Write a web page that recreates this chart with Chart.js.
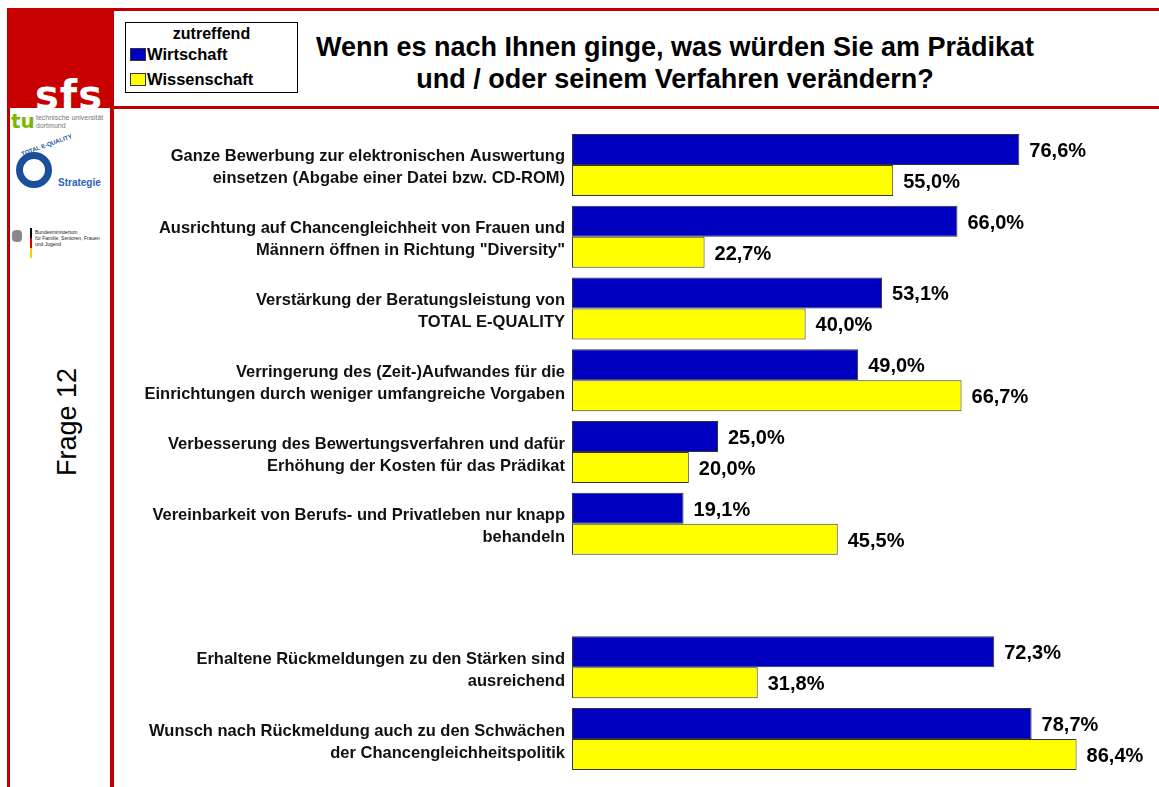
<!DOCTYPE html>
<html>
<head>
<meta charset="utf-8">
<script src="https://cdn.jsdelivr.net/npm/chart.js@4.4.1/dist/chart.umd.min.js"></script>
<style>
  html, body { margin: 0; padding: 0; background: #fff; }
  body { width: 1159px; height: 787px; position: relative; overflow: hidden; font-family: "Liberation Sans", Arial, sans-serif; }
  .red { position: absolute; background: #bf0000; }
  #sfs { position: absolute; left: 8px; top: 9px; width: 105px; height: 99px; background: #c80000; overflow: hidden; }
  #sfs span { position: absolute; left: 27px; bottom: -10px; color: #fff; font: bold 40px "DejaVu Sans", sans-serif; letter-spacing: 1px; }
  #logos { position: absolute; left: 10px; top: 110px; width: 100px; height: 160px; background: #fff; }
  #legend { position: absolute; left: 125px; top: 22px; width: 171px; height: 69px; border: 1.5px solid #000; font-weight: bold; }
  #legend .ttl { text-align: center; font-size: 16px; margin-top: 2px; }
  #legend .it { position: absolute; left: 4px; font-size: 16.5px; }
  #legend .sw { display: inline-block; width: 14px; height: 11px; border: 1px solid #333; vertical-align: -1px; margin-right: 1px; }
  #title { position: absolute; left: 280px; width: 790px; top: 31px; text-align: center; font: bold 27px "Liberation Sans", sans-serif; line-height: 32px; }
  #frage { position: absolute; left: 67px; top: 422px; transform: translate(-50%, -50%) rotate(-90deg); font-size: 27px; white-space: nowrap; }
  #wrap { position: absolute; left: 113px; top: 109px; width: 1046px; height: 678px; }
</style>
</head>
<body>
<div class="red" style="left:8px; top:8px; width:1151px; height:3px;"></div>
<div class="red" style="left:7px; top:8px; width:3px; height:779px;"></div>
<div class="red" style="left:110px; top:8px; width:4px; height:779px;"></div>
<div class="red" style="left:113px; top:106px; width:1046px; height:3px;"></div>
<div id="sfs"><span>sfs</span></div>
<div id="logos">
  <div style="position:absolute; left:1px; top:2px; color:#7ab800; font:bold 20px 'DejaVu Sans', sans-serif; line-height:18px;">tu</div>
  <div style="position:absolute; left:26px; top:4px; color:#777; font-size:7px; line-height:8px;">technische universität<br>dortmund</div>
  <div style="position:absolute; left:6px; top:42px; width:36px; height:36px; border-radius:50%; border:7px solid #1a4f9c; box-sizing:border-box;"></div>
  <div style="position:absolute; left:10px; top:32px; color:#1a4f9c; font:bold 6px sans-serif; transform:rotate(-20deg);">TOTAL E-QUALITY</div>
  <div style="position:absolute; left:48px; top:67px; color:#2a62b8; font:bold 10px sans-serif;">Strategie</div>
  <div style="position:absolute; left:2px; top:120px; width:10px; height:12px; background:#888; border-radius:4px;"></div>
  <div style="position:absolute; left:20px; top:118px; width:2px; height:10px; background:#000;"></div>
  <div style="position:absolute; left:20px; top:128px; width:2px; height:10px; background:#d00;"></div>
  <div style="position:absolute; left:20px; top:138px; width:2px; height:10px; background:#fc0;"></div>
  <div style="position:absolute; left:25px; top:119px; color:#222; font-size:5px; line-height:6px;">Bundesministerium<br>für Familie, Senioren, Frauen<br>und Jugend</div>
</div>
<div id="legend">
  <div class="ttl">zutreffend</div>
</div>
<div id="title">Wenn es nach Ihnen ginge, was würden Sie am Prädikat<br>und / oder seinem Verfahren verändern?</div>
<div id="frage">Frage 12</div>
<div id="wrap"><canvas id="c"></canvas></div>
<script>
// Kategorien (leere Kategorie = Lücke zwischen den Blöcken)
const categories = [
  ["Ganze Bewerbung zur elektronischen Auswertung", "einsetzen (Abgabe einer Datei bzw. CD-ROM)"],
  ["Ausrichtung auf Chancengleichheit von Frauen und", "Männern öffnen in Richtung \"Diversity\""],
  ["Verstärkung der Beratungsleistung von", "TOTAL E-QUALITY"],
  ["Verringerung des (Zeit-)Aufwandes für die", "Einrichtungen durch weniger umfangreiche Vorgaben"],
  ["Verbesserung des Bewertungsverfahren und dafür", "Erhöhung der Kosten für das Prädikat"],
  ["Vereinbarkeit von Berufs- und Privatleben nur knapp", "behandeln"],
  "",
  ["Erhaltene Rückmeldungen zu den Stärken sind", "ausreichend"],
  ["Wunsch nach Rückmeldung auch zu den Schwächen", "der Chancengleichheitspolitik"]
];
const wirtschaft   = [76.6, 66.0, 53.1, 49.0, 25.0, 19.1, null, 72.3, 78.7];
const wissenschaft = [55.0, 22.7, 40.0, 66.7, 20.0, 45.5, null, 31.8, 86.4];
const seriesNames = ["Wirtschaft", "Wissenschaft"];
const seriesColors = ["#0000c0", "#ffff00"];

// Legende im Kopfbereich
const legend = document.getElementById("legend");
seriesNames.forEach((name, i) => {
    const d = document.createElement("div");
    d.className = "it";
    d.style.top = (22 + i * 25) + "px";
    d.innerHTML = '<span class="sw" style="background:' + seriesColors[i] + '"></span>' + name;
    legend.appendChild(d);
});

// Wertbeschriftungen rechts neben den Balken
const valueLabels = {
    id: "valueLabels",
    afterDatasetsDraw(chart) {
        const ctx = chart.ctx;
        ctx.save();
        ctx.fillStyle = "#000";
        ctx.font = "bold 20px 'Liberation Sans', sans-serif";
        ctx.textBaseline = "middle";
        ctx.textAlign = "left";
        chart.data.datasets.forEach((ds, di) => {
            chart.getDatasetMeta(di).data.forEach((bar, i) => {
                const v = ds.data[i];
                if (v == null) return;
                ctx.fillText(v.toFixed(1).replace(".", ",") + "%", bar.x + 10, bar.y + 2);
            });
        });
        ctx.restore();
    }
};

new Chart(document.getElementById("c"), {
    type: "bar",
    data: {
        labels: categories,
        datasets: [
            { label: seriesNames[0], data: wirtschaft, backgroundColor: seriesColors[0] },
            { label: seriesNames[1], data: wissenschaft, backgroundColor: seriesColors[1] }
        ]
    },
    options: {
        indexAxis: "y",
        responsive: true,
        maintainAspectRatio: false,
        animation: false,
        layout: { padding: { top: 20, bottom: 12, right: 3 } },
        datasets: {
            bar: {
                categoryPercentage: 0.864,
                barPercentage: 1.0,
                borderColor: "#333",
                borderWidth: 1,
                borderSkipped: false
            }
        },
        plugins: {
            legend: { display: false },
            tooltip: { enabled: false }
        },
        scales: {
            x: { min: 0, max: 100, display: false },
            y: {
                afterFit(scale) {
                    scale.width = 459;
                    scale.paddingTop = 0;
                    scale.paddingBottom = 0;
                },
                grid: { display: false, drawTicks: false },
                border: { display: false },
                ticks: {
                    padding: 7,
                    labelOffset: 3,
                    color: "#111",
                    font: { family: "'Liberation Sans', Arial, sans-serif", size: 16.5, weight: "bold", lineHeight: 1.33 }
                }
            }
        }
    },
    plugins: [valueLabels]
});
</script>
</body>
</html>
